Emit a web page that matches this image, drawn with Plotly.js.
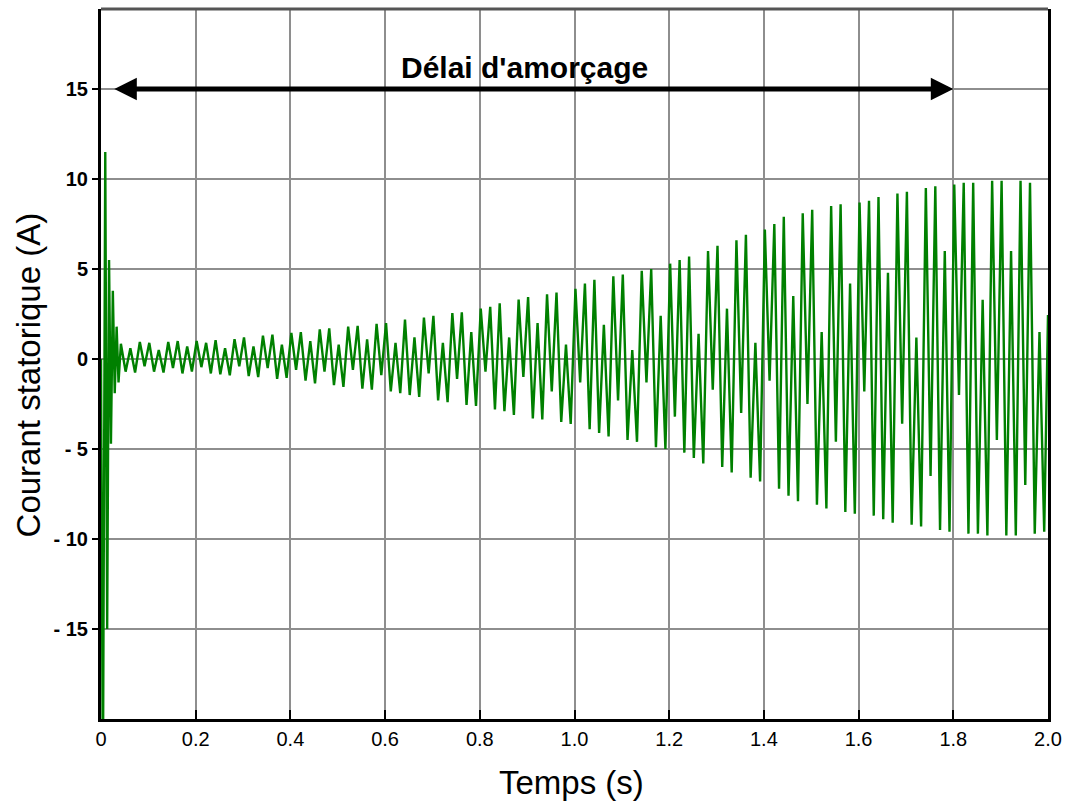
<!DOCTYPE html>
<html>
<head>
<meta charset="utf-8">
<script src="https://cdn.plot.ly/plotly-3.0.1.min.js"></script>
<style>html,body{margin:0;padding:0;background:#fff;}#chart{width:1070px;height:807px;}</style>
</head>
<body>
<div id="chart"></div>
<script>
// Start-up transient (time in s, current in A)
const transientT = [0, 0.004, 0.009, 0.013, 0.017, 0.021, 0.025, 0.029, 0.033, 0.037];
const transientI = [0, -24, 11.5, -15, 5.5, -4.7, 3.8, -1.9, 1.8, -1.3];

// Time of each positive extremum of the 50 Hz current (s)
const cycleT = [
 0.042,0.062,0.082,0.102,0.122,0.142,0.162,0.182,0.202,0.222,
 0.242,0.262,0.282,0.302,0.322,0.342,0.362,0.382,0.402,0.422,
 0.442,0.462,0.482,0.502,0.522,0.542,0.562,0.582,0.602,0.622,
 0.642,0.662,0.682,0.702,0.722,0.742,0.762,0.782,0.802,0.822,
 0.842,0.862,0.882,0.902,0.922,0.942,0.962,0.982,1.002,1.022,
 1.042,1.062,1.082,1.102,1.122,1.142,1.162,1.182,1.202,1.222,
 1.242,1.262,1.282,1.302,1.322,1.342,1.362,1.382,1.402,1.422,
 1.442,1.462,1.482,1.502,1.522,1.542,1.562,1.582,1.602,1.622,
 1.642,1.662,1.682,1.702,1.722,1.742,1.762,1.782,1.802,1.822,
 1.842,1.862,1.882,1.902,1.922,1.942,1.962,1.982
];
// Positive extremum of each cycle (A)
const peakHigh = [
 0.85,0.6,0.95,0.9,0.5,0.95,1.0,0.7,1.0,0.9,
 1.05,0.6,1.1,1.2,0.7,1.3,1.35,0.8,1.45,1.5,
 1.0,1.65,1.7,0.8,1.8,1.85,1.1,1.95,2.0,0.9,
 2.2,1.2,2.3,2.4,0.9,2.55,2.6,1.5,2.8,2.9,
 3.1,1.2,3.3,3.45,2.0,3.6,3.7,0.8,3.9,4.2,
 4.4,1.9,4.6,4.7,0.5,4.9,5.0,2.4,5.3,5.5,
 5.7,1.4,6.0,6.3,2.8,6.6,6.9,0.9,7.2,7.5,
 7.9,3.5,8.1,8.3,1.5,8.5,8.6,4.2,8.7,8.8,
 9.0,4.8,9.2,9.3,1.2,9.5,9.6,6.0,9.7,9.8,
 9.8,3.3,9.9,9.9,6.0,9.9,9.8,1.5
];
// Negative extremum of each cycle, half a period later (A)
const peakLow = [
 -0.7,-0.75,-0.4,-0.7,-0.75,-0.5,-0.8,-0.7,-0.45,-0.8,
 -0.85,-0.9,-0.4,-0.95,-1.0,-0.5,-1.1,-1.05,-0.6,-1.2,
 -1.35,-0.7,-1.45,-1.55,-0.6,-1.65,-1.7,-0.9,-1.8,-1.9,
 -2.0,-2.1,-0.8,-2.3,-2.4,-1.1,-2.55,-2.6,-0.7,-2.8,
 -2.9,-3.1,-1.0,-3.3,-3.35,-1.8,-3.5,-3.6,-1.3,-3.9,
 -4.1,-4.3,-2.3,-4.5,-4.6,-1.3,-4.9,-5.0,-3.2,-5.2,
 -5.5,-5.8,-1.7,-6.0,-6.3,-3.0,-6.6,-6.8,-1.2,-7.2,
 -7.6,-7.9,-2.5,-8.1,-8.3,-4.6,-8.5,-8.6,-1.8,-8.7,
 -8.9,-9.1,-3.6,-9.2,-9.3,-6.5,-9.5,-9.6,-2.0,-9.7,
 -9.7,-9.8,-4.5,-9.8,-9.8,-7.0,-9.7,-9.6
];
const halfPeriod = 0.01;
const endT = 2.0, endI = 2.45;

const xTickVals = [0,0.2,0.4,0.6,0.8,1.0,1.2,1.4,1.6,1.8,2.0];
const xTickText = ["0","0.2","0.4","0.6","0.8","1.0","1.2","1.4","1.6","1.8","2.0"];
const yTickVals = [-15,-10,-5,0,5,10,15];
const yTickText = ["- 15","- 10","- 5","0","5","10","15"];

const xTitle = "Temps (s)";
const yTitle = "Courant statorique (A)";
const delayLabel = "Délai d'amorçage";
const delayStart = 0.025, delayEnd = 1.8, delayLevel = 15;

const xs = transientT.slice(), ys = transientI.slice();
for (let k = 0; k < cycleT.length; k++) {
  xs.push(cycleT[k]); ys.push(peakHigh[k]);
  xs.push(cycleT[k] + halfPeriod); ys.push(peakLow[k]);
}
xs.push(endT); ys.push(endI);

const trace = {
  x: xs, y: ys, type: 'scatter', mode: 'lines',
  line: {color: '#008000', width: 2.4},
  hoverinfo: 'skip', showlegend: false
};

const arial = '"Liberation Sans", Arial, sans-serif';

const layout = {
  width: 1070, height: 807,
  margin: {l: 101, r: 22, t: 9, b: 88},
  paper_bgcolor: '#ffffff', plot_bgcolor: '#ffffff',
  showlegend: false,
  font: {family: arial, color: '#000'},
  xaxis: {
    range: [0, 2.0], tickvals: xTickVals, ticktext: xTickText,
    ticks: 'inside', ticklen: 9, tickwidth: 2, tickcolor: '#000',
    showgrid: true, gridcolor: '#8e8e8e', gridwidth: 2,
    showline: true, linecolor: '#000', linewidth: 3, mirror: false,
    zeroline: false, tickfont: {size: 20, family: arial, color: '#000'},
    fixedrange: true
  },
  yaxis: {
    range: [-20, 19.45], tickvals: yTickVals, ticktext: yTickText,
    ticks: 'outside', ticklen: 6, tickwidth: 2, tickcolor: '#000',
    showgrid: true, gridcolor: '#8e8e8e', gridwidth: 2,
    showline: true, linecolor: '#000', linewidth: 3, mirror: true,
    zeroline: false,
    tickfont: {size: 20, family: arial, color: '#000', weight: 'bold'},
    fixedrange: true
  },
  shapes: [
    {type: 'line', xref: 'paper', yref: 'paper', x0: 0, x1: 1, y0: 1, y1: 1,
     line: {color: '#555555', width: 3}}
  ],
  annotations: [
    {x: delayEnd, y: delayLevel, ax: delayStart, ay: delayLevel,
     xref: 'x', yref: 'y', axref: 'x', ayref: 'y',
     text: '', showarrow: true, arrowside: 'end+start', arrowhead: 2,
     arrowsize: 0.9, arrowwidth: 5, arrowcolor: '#000', standoff: 0, startstandoff: 0},
    {x: 0.895, y: 16.2, xref: 'x', yref: 'y', yanchor: 'middle', xanchor: 'center',
     text: '<b>' + delayLabel + '</b>', showarrow: false,
     font: {size: 30, family: arial, color: '#000'}},
    {x: 0.9926, y: -0.089, xref: 'x', yref: 'paper', xanchor: 'center', yanchor: 'middle',
     text: xTitle, showarrow: false, font: {size: 33, family: arial, color: '#000'}},
    {x: -0.077, y: 0.484, xref: 'paper', yref: 'paper', xanchor: 'center', yanchor: 'middle',
     textangle: -90, text: yTitle, showarrow: false,
     font: {size: 33, family: arial, color: '#000'}}
  ]
};

Plotly.newPlot('chart', [trace], layout, {staticPlot: true, displayModeBar: false});
</script>
</body>
</html>
